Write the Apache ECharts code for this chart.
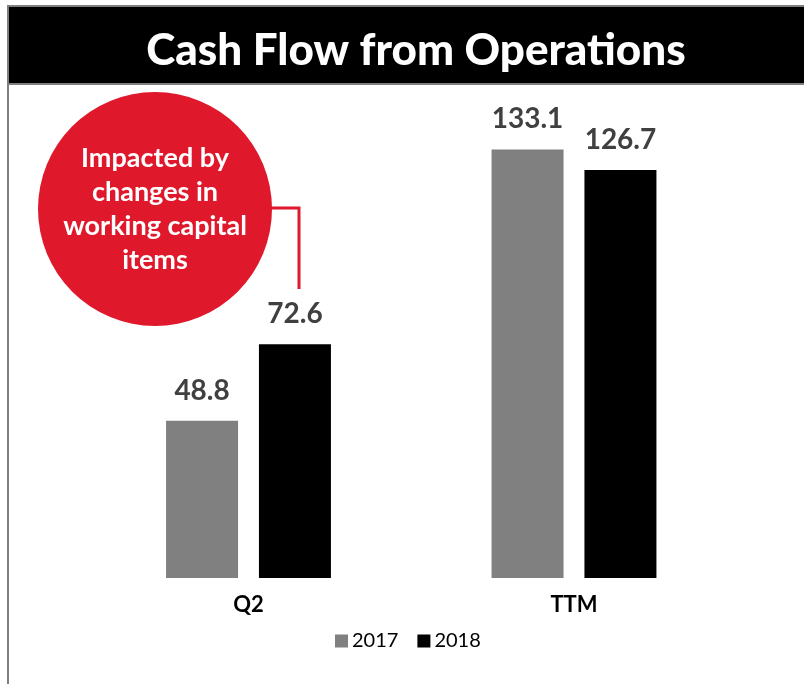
<!DOCTYPE html>
<html><head><meta charset="utf-8">
<script src="https://cdn.jsdelivr.net/npm/echarts@6/dist/echarts.min.js"></script>
<style>html,body{margin:0;padding:0;background:#fff}#c{width:804px;height:684px}</style>
</head><body><div id="c"></div>
<script>
const categories = ['Q2', 'TTM'];
const seriesNames = ['2017', '2018'];
const values2017 = [48.8, 133.1];
const values2018 = [72.6, 126.7];
const titleText = 'Cash Flow from Operations';
const calloutLines = ['Impacted by', 'changes in', 'working capital', 'items'];

const FONT = 'Lato';
const chart = echarts.init(document.getElementById('c'));
chart.setOption({
  backgroundColor: '#fff',
  animation: false,
  title: {
    text: titleText, left: 411, top: 46, textAlign: 'center', textVerticalAlign: 'middle',
    textStyle: { color: '#fff', fontFamily: FONT, fontWeight: 900, fontSize: 44 }
  },
  legend: {
    data: seriesNames, left: 330, top: 626, itemWidth: 13, itemHeight: 13, itemGap: 19,
    icon: 'rect', textStyle: { fontFamily: FONT, fontSize: 20, color: '#000', padding: [0, 0, 0, -1] }
  },
  grid: { left: 85.75, right: 804 - 736.75, top: 95, bottom: 684 - 578 },
  xAxis: {
    type: 'category', data: categories,
    axisLine: { show: false }, axisTick: { show: false },
    axisLabel: { fontFamily: FONT, fontWeight: 'bold', fontSize: 22, color: '#000', margin: 16 }
  },
  yAxis: { type: 'value', min: 0, max: 150, show: false, splitLine: { show: false } },
  series: [
    { name: seriesNames[0], type: 'bar', data: values2017, barWidth: 72, barGap: '29%',
      itemStyle: { color: '#808080' },
      label: { show: true, position: 'top', distance: 16, fontFamily: FONT, fontWeight: 'bold', fontSize: 28, color: '#404040', formatter: p => p.value.toFixed(1) } },
    { name: seriesNames[1], type: 'bar', data: values2018, barWidth: 72,
      itemStyle: { color: '#000' },
      label: { show: true, position: 'top', distance: 16, fontFamily: FONT, fontWeight: 'bold', fontSize: 28, color: '#404040', formatter: p => p.value.toFixed(1) } }
  ],
  graphic: [
    { type: 'rect', z: -1, shape: { x: 8, y: 6, width: 800, height: 78 }, style: { fill: '#000', stroke: '#7f7f7f', lineWidth: 2 } },
    { type: 'line', shape: { x1: 8, y1: 84, x2: 8, y2: 684 }, style: { stroke: '#7f7f7f', lineWidth: 2 } },
    { type: 'polyline', shape: { points: [[268, 208], [299, 208], [299, 289]] }, style: { stroke: '#e0182b', lineWidth: 3, fill: null } },
    { type: 'circle', shape: { cx: 155, cy: 209, r: 117 }, style: { fill: '#e0182b' } },
    { type: 'text', x: 155, y: 209, style: { text: calloutLines.join('\n'), align: 'center', verticalAlign: 'middle',
      fill: '#fff', fontFamily: FONT, fontWeight: 'bold', fontSize: 27, lineHeight: 34 } }
  ]
});
</script></body></html>
